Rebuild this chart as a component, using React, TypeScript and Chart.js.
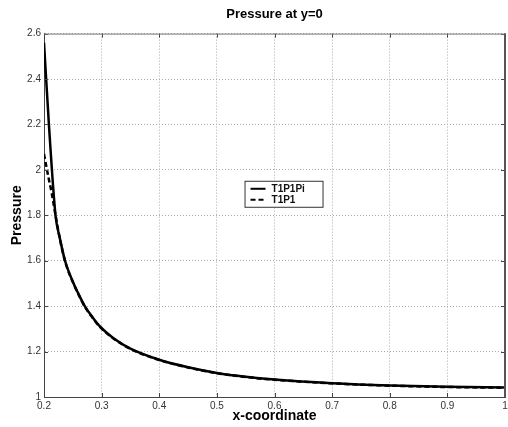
import React, { useEffect, useRef } from "react";
import { Chart, registerables } from "chart.js";

Chart.register(...registerables);

// x-coordinate samples and pressure values
const xSolid = [0.2, 0.2085, 0.22, 0.227, 0.2365, 0.251, 0.26, 0.271, 0.284, 0.297, 0.32, 0.35, 0.4, 0.45, 0.5, 0.55, 0.6, 0.7, 0.8, 0.9, 1.0];
const pSolid = [2.56, 2.2, 1.8, 1.705, 1.6, 1.502, 1.453, 1.399, 1.352, 1.311, 1.26, 1.213, 1.164, 1.131, 1.106, 1.089, 1.077, 1.061, 1.051, 1.045, 1.042];
const xDashed = [0.2, 0.2075, 0.2134, 0.22, 0.227, 0.2365, 0.251, 0.26, 0.271, 0.284, 0.297, 0.32, 0.35, 0.4, 0.45, 0.5, 0.55, 0.6, 0.7, 0.8, 0.9, 1.0];
const pDashed = [2.07, 1.97, 1.898, 1.8, 1.703, 1.598, 1.5, 1.451, 1.397, 1.35, 1.309, 1.259, 1.212, 1.163, 1.13, 1.105, 1.088, 1.076, 1.06, 1.05, 1.044, 1.041];
const seriesLabels = ["T1P1Pi", "T1P1"];
const chartTitle = "Pressure at y=0";
const xTitle = "x-coordinate";
const yTitle = "Pressure";

const FONT = "'Liberation Sans', Arial, Helvetica, sans-serif";
const fmt = (v: any) => String(Math.round(Number(v) * 10) / 10);

const framePlugin = {
  id: "frame",
  afterDatasetsDraw(chart: any) {
    const { ctx, chartArea: a, scales } = chart;
    ctx.save();
    // inner tick marks on all sides
    ctx.strokeStyle = "#444";
    ctx.lineWidth = 1;
    ctx.beginPath();
    scales.x.ticks.forEach((t: any) => {
      const px = Math.round(scales.x.getPixelForValue(t.value)) + 0.5;
      ctx.moveTo(px, a.top);
      ctx.lineTo(px, a.top + 4);
      ctx.moveTo(px, a.bottom);
      ctx.lineTo(px, a.bottom - 4);
    });
    scales.y.ticks.forEach((t: any) => {
      const py = Math.round(scales.y.getPixelForValue(t.value)) + 0.5;
      ctx.moveTo(a.right, py);
      ctx.lineTo(a.right - 4, py);
      ctx.moveTo(a.left, py);
      ctx.lineTo(a.left + 4, py);
    });
    ctx.stroke();
    // top border
    ctx.strokeStyle = "#777";
    ctx.beginPath();
    ctx.moveTo(a.left, a.top + 0.5);
    ctx.lineTo(a.right, a.top + 0.5);
    ctx.stroke();
    // right border
    ctx.strokeStyle = "#555";
    ctx.lineWidth = 2;
    ctx.beginPath();
    ctx.moveTo(a.right, a.top);
    ctx.lineTo(a.right, a.bottom);
    ctx.stroke();

    // legend box
    const lx = a.left + (a.right - a.left) * 0.435;
    const ly = a.top + (a.bottom - a.top) * 0.405;
    const lw = 78;
    const lh = 26;
    ctx.fillStyle = "#fff";
    ctx.fillRect(lx, ly, lw, lh);
    ctx.strokeStyle = "#333";
    ctx.lineWidth = 1;
    ctx.strokeRect(lx + 0.5, ly + 0.5, lw, lh);
    ctx.font = "bold 10px " + FONT;
    ctx.textBaseline = "middle";
    ctx.textAlign = "left";
    chart.data.datasets.forEach((ds: any, i: number) => {
      const yy = ly + 8 + i * 11;
      ctx.strokeStyle = "#000";
      ctx.lineWidth = 2;
      ctx.setLineDash(ds.borderDash || []);
      ctx.beginPath();
      ctx.moveTo(lx + 6, yy);
      ctx.lineTo(lx + 21, yy);
      ctx.stroke();
      ctx.setLineDash([]);
      ctx.fillStyle = "#111";
      ctx.fillText(ds.label, lx + 27, yy);
    });
    ctx.restore();
  },
};

export default function App() {
  const ref = useRef<HTMLCanvasElement>(null);
  useEffect(() => {
    document.body.style.margin = "0";
    const chart = new Chart(ref.current as HTMLCanvasElement, {
      type: "line",
      data: {
        datasets: [
          {
            label: seriesLabels[0],
            data: xSolid.map((x, i) => ({ x, y: pSolid[i] })),
            borderColor: "#000",
            borderWidth: 2.5,
            pointRadius: 0,
            cubicInterpolationMode: "monotone",
            order: 1,
          },
          {
            label: seriesLabels[1],
            data: xDashed.map((x, i) => ({ x, y: pDashed[i] })),
            borderColor: "#000",
            borderWidth: 2.5,
            borderDash: [5, 3],
            pointRadius: 0,
            cubicInterpolationMode: "monotone",
            order: 2,
          },
        ],
      },
      options: {
        responsive: false,
        animation: false,
        events: [],
        layout: { padding: { right: 3, left: 0, top: 0, bottom: 0 } },
        plugins: {
          legend: { display: false },
          tooltip: { enabled: false },
          title: {
            display: true,
            text: chartTitle,
            fullSize: false,
            color: "#000",
            font: { family: FONT, size: 13, weight: "bold" },
            padding: { top: 7, bottom: 11 },
          },
        },
        scales: {
          x: {
            type: "linear",
            min: 0.2,
            max: 1,
            ticks: {
              stepSize: 0.1,
              color: "#333",
              padding: 3,
              font: { family: FONT, size: 10 },
              maxRotation: 0,
              autoSkip: false,
              callback: fmt,
            },
            grid: { color: "#aaa", drawTicks: false },
            border: { color: "#444", width: 1, dash: [1, 2] },
            title: {
              display: true,
              text: xTitle,
              color: "#000",
              font: { family: FONT, size: 14, weight: "bold" },
              padding: { top: 0, bottom: 2 },
            },
            afterFit(s: any) {
              s.height = 30;
              s.paddingRight = 0;
              s.paddingLeft = 0;
            },
          },
          y: {
            type: "linear",
            min: 1,
            max: 2.6,
            ticks: {
              stepSize: 0.2,
              color: "#333",
              padding: 3,
              font: { family: FONT, size: 10 },
              callback: fmt,
            },
            grid: { color: "#aaa", drawTicks: false },
            border: { color: "#444", width: 1, dash: [1, 2] },
            title: {
              display: true,
              text: yTitle,
              color: "#000",
              font: { family: FONT, size: 14, weight: "bold" },
              padding: { top: 9, bottom: 0 },
            },
            afterFit(s: any) {
              s.width = 44;
              s.paddingTop = 0;
              s.paddingBottom = 0;
            },
          },
        },
      },
      plugins: [framePlugin],
    });
    return () => chart.destroy();
  }, []);
  return (
    <div style={{ width: 508, height: 427 }}>
      <canvas ref={ref} width={508} height={427} />
    </div>
  );
}
